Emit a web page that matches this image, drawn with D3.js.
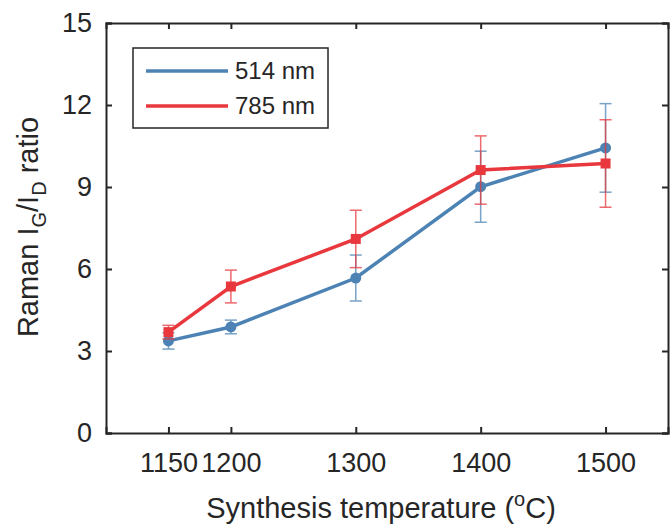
<!DOCTYPE html>
<html>
<head>
<meta charset="utf-8">
<script src="https://cdn.jsdelivr.net/npm/d3@7"></script>
<style>
body { margin: 0; background: #fff; }
text { font-family: "Liberation Sans", Arial, sans-serif; fill: #262626; }
</style>
</head>
<body>
<svg id="chart" width="670" height="524"></svg>
<script>
var temps = [1150, 1200, 1300, 1400, 1500];
var xTicks = [1150, 1200, 1300, 1400, 1500];
var yTicks = [0, 3, 6, 9, 12, 15];
var ratio514 = [3.37, 3.88, 5.67, 9.01, 10.43];
var err514 = [0.3, 0.25, 0.84, 1.3, 1.62];
var ratio785 = [3.69, 5.36, 7.1, 9.62, 9.86];
var err785 = [0.25, 0.6, 1.05, 1.25, 1.6];
var seriesNames = ["514 nm", "785 nm"];
var colors = ["#4c83b4", "#e8383d"];

var svg = d3.select("#chart");
var mLeft = 106, mRight = 668, mTop = 23, mBottom = 433;
var x = d3.scaleLinear().domain([1100, 1550]).range([mLeft, mRight]);
var y = d3.scaleLinear().domain([0, 15]).range([mBottom, mTop]);
var axisColor = "#262626";

// axes with inward ticks on all sides
var gx = svg.append("g").attr("transform", "translate(0," + mBottom + ")")
    .call(d3.axisBottom(x).tickValues(xTicks).tickSize(-6).tickPadding(20).tickFormat(d3.format("d")));
var gxt = svg.append("g").attr("transform", "translate(0," + mTop + ")")
    .call(d3.axisTop(x).tickValues(xTicks).tickSize(-6).tickFormat(""));
var gy = svg.append("g").attr("transform", "translate(" + mLeft + ",0)")
    .call(d3.axisLeft(y).tickValues(yTicks).tickSize(-6).tickPadding(14));
var gyr = svg.append("g").attr("transform", "translate(" + mRight + ",0)")
    .call(d3.axisRight(y).tickValues(yTicks).tickSize(-6).tickFormat(""));
[gx, gxt, gy, gyr].forEach(function (g) {
    g.select(".domain").attr("stroke", axisColor).attr("stroke-width", 2);
    g.selectAll(".tick line").attr("stroke", axisColor).attr("stroke-width", 2);
    g.selectAll(".tick text").style("font-size", "27px").attr("fill", axisColor)
        .style("font-family", "'Liberation Sans', Arial, sans-serif");
});

var data = [
    { vals: ratio514, errs: err514, color: colors[0], marker: "circle" },
    { vals: ratio785, errs: err785, color: colors[1], marker: "square" }
];

var line = d3.line().x(function (d) { return x(d.t); }).y(function (d) { return y(d.v); });

data.forEach(function (s) {
    var pts = temps.map(function (t, i) { return { t: t, v: s.vals[i], e: s.errs[i] }; });
    var g = svg.append("g");
    // error bars
    pts.forEach(function (p) {
        var eg = g.append("g").attr("stroke", s.color).attr("stroke-width", 1.5).attr("opacity", 0.75);
        eg.append("line").attr("x1", x(p.t)).attr("x2", x(p.t)).attr("y1", y(p.v - p.e)).attr("y2", y(p.v + p.e));
        eg.append("line").attr("x1", x(p.t) - 6).attr("x2", x(p.t) + 6).attr("y1", y(p.v - p.e)).attr("y2", y(p.v - p.e));
        eg.append("line").attr("x1", x(p.t) - 6).attr("x2", x(p.t) + 6).attr("y1", y(p.v + p.e)).attr("y2", y(p.v + p.e));
    });
    g.append("path").datum(pts).attr("d", line).attr("fill", "none")
        .attr("stroke", s.color).attr("stroke-width", 3.5);
    if (s.marker === "circle") {
        g.selectAll("circle").data(pts).enter().append("circle")
            .attr("cx", function (d) { return x(d.t); }).attr("cy", function (d) { return y(d.v); })
            .attr("r", 5.5).attr("fill", s.color);
    } else {
        g.selectAll("rect").data(pts).enter().append("rect")
            .attr("x", function (d) { return x(d.t) - 5; }).attr("y", function (d) { return y(d.v) - 5; })
            .attr("width", 10).attr("height", 10).attr("fill", s.color);
    }
});

// legend
var lg = svg.append("g");
lg.append("rect").attr("x", 133).attr("y", 48).attr("width", 195).attr("height", 80)
    .attr("fill", "#fff").attr("stroke", axisColor).attr("stroke-width", 1.5);
seriesNames.forEach(function (n, i) {
    var ly = 71 + i * 35;
    lg.append("line").attr("x1", 146).attr("x2", 228).attr("y1", ly).attr("y2", ly)
        .attr("stroke", colors[i]).attr("stroke-width", 3.5);
    lg.append("text").attr("x", 235).attr("y", ly).attr("dy", "0.35em")
        .style("font-size", "24px").text(n);
});

// axis titles
var xt = svg.append("text").attr("x", 381).attr("y", 518).attr("text-anchor", "middle")
    .style("font-size", "29px");
xt.append("tspan").text("Synthesis temperature (");
xt.append("tspan").attr("dy", "-12").style("font-size", "20px").text("o");
xt.append("tspan").attr("dy", "12").text("C)");

var yt = svg.append("text").attr("transform", "translate(38,227) rotate(-90)")
    .attr("text-anchor", "middle").style("font-size", "29px");
yt.append("tspan").text("Raman I");
yt.append("tspan").attr("dy", "8").style("font-size", "20px").text("G");
yt.append("tspan").attr("dy", "-8").text("/I");
yt.append("tspan").attr("dy", "8").style("font-size", "20px").text("D");
yt.append("tspan").attr("dy", "-8").text(" ratio");
</script>
</body>
</html>
